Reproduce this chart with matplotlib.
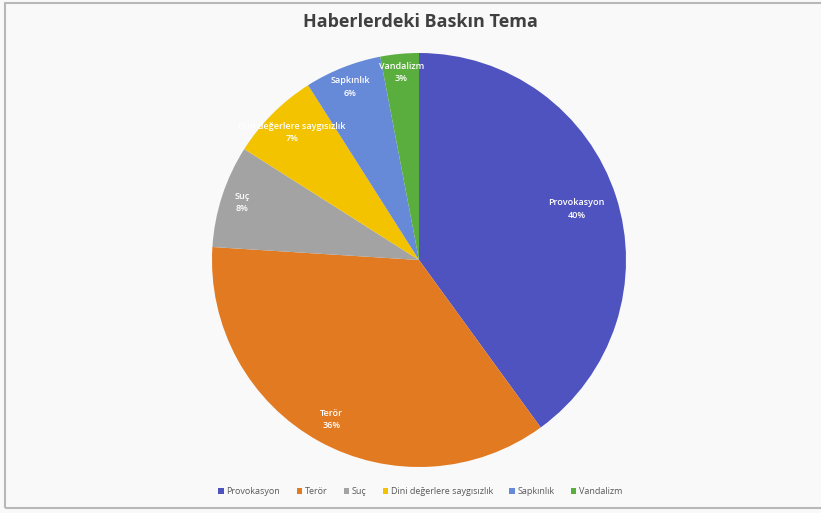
import numpy as np
import matplotlib
matplotlib.use("Agg")
import matplotlib.pyplot as plt
from matplotlib.patches import Rectangle

labels = ["Provokasyon", "Terör", "Suç", "Dini değerlere saygısızlık", "Sapkınlık", "Vandalizm"]
values = [40, 36, 8, 7, 6, 3]
colors = ["#4f53bf", "#e27a22", "#a3a3a3", "#f4c300", "#6689d8", "#5aae3e"]
label_radius = [0.80, 0.88, 0.90, 0.87, 0.90, 0.91]

plt.rcParams["font.family"] = ["Open Sans", "DejaVu Sans"]

fig = plt.figure(figsize=(8.21, 5.13), dpi=100)
fig.patch.set_facecolor("#f9f9f9")
fig.patches.append(Rectangle((0.006, 0.01), 1.2, 0.985, transform=fig.transFigure,
                             fill=False, edgecolor="#b8b8b8", linewidth=1.5))

ax = fig.add_axes([0.0, 0.0, 1.0, 1.0])
ax.set_facecolor("none")

# axes in pixel units, y measured upward
cx, cy, r = 419, 513 - 260, 207
wedges, _ = ax.pie(values, colors=colors, startangle=90, counterclock=False,
                   center=(cx, cy), radius=r, frame=True,
                   wedgeprops=dict(linewidth=0))
ax.set_xlim(0, 821)
ax.set_ylim(0, 513)
ax.set_aspect("equal")
ax.axis("off")

total = sum(values)
start = 90.0
for lab, v, k in zip(labels, values, label_radius):
    mid = np.deg2rad(start - 360 * v / total / 2)
    start -= 360 * v / total
    x = cx + k * r * np.cos(mid)
    y = cy + k * r * np.sin(mid)
    ax.text(x, y, f"{lab}\n{v}%", ha="center", va="center", color="white",
            fontsize=6.5, linespacing=1.5, fontweight="semibold")

ax.text(420, 513 - 22, "Haberlerdeki Baskın Tema", ha="center", va="center",
        fontsize=13, color="#404040", fontweight="bold")

leg = fig.legend(wedges, labels, loc="center", bbox_to_anchor=(0.512, 0.041),
                 ncol=6, frameon=False, fontsize=6.5, handlelength=0.6,
                 handleheight=0.6, handletextpad=0.3, columnspacing=1.8)
for t in leg.get_texts():
    t.set_color("#595959")

fig.savefig("out.png", dpi=100, facecolor=fig.get_facecolor())
